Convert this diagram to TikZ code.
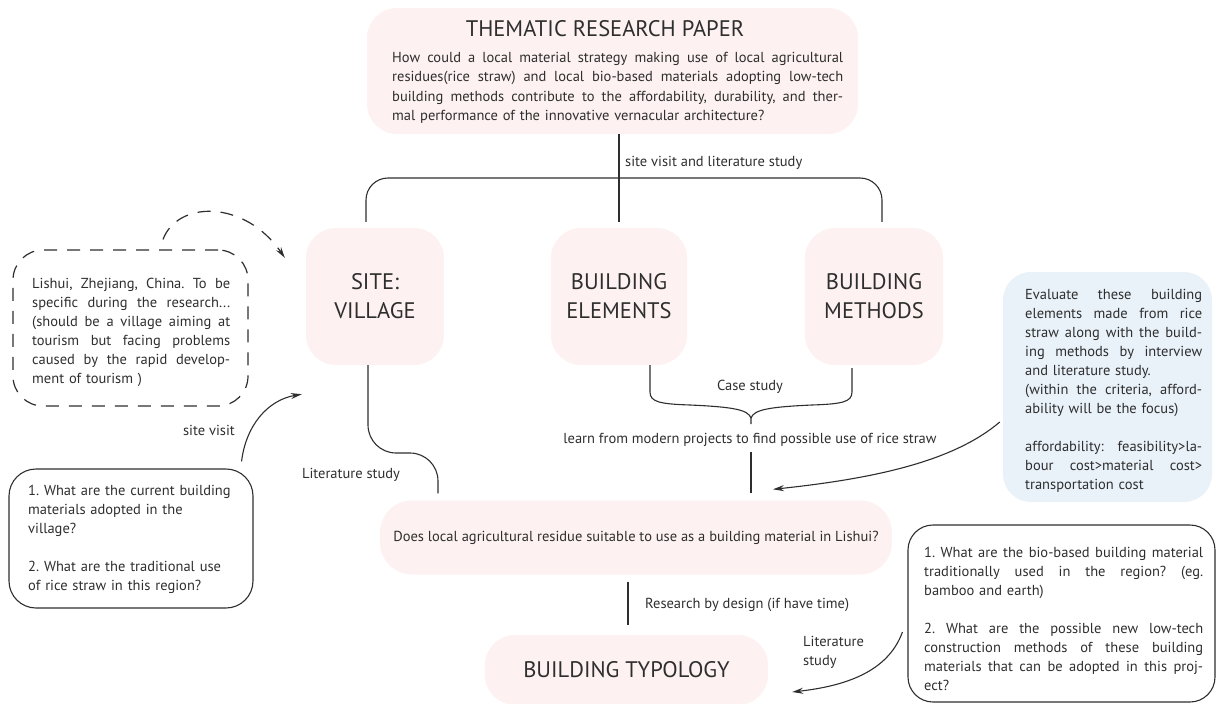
\documentclass[tikz,border=0pt]{standalone}
\usepackage{fontspec}
\setmainfont{PT Sans}
\usetikzlibrary{arrows.meta,calc}
\definecolor{pinkf}{HTML}{FDF1F1}
\definecolor{bluef}{HTML}{E9F1F9}
\definecolor{ink}{HTML}{2E2E2E}
\def\jw{100pt}
\newcommand{\jl}[1]{\leavevmode\hbox to \jw{\spaceskip=0.26em plus 1fil minus 0.05em\relax #1}}
\frenchspacing
\begin{document}
\begin{tikzpicture}[x=1pt,y=-1pt,
 every node/.style={text=ink},
 pbox/.style={fill=pinkf, rounded corners=30pt, inner sep=0pt},
 big/.style={font=\fontsize{22.5}{29}\selectfont, align=center},
 sm/.style={font=\fontsize{14.5}{19}\selectfont, inner sep=0pt},
 para/.style={sm, align=left, anchor=base west},
 conn/.style={draw=ink, line width=1.1pt},
 arr/.style={conn, -{Stealth[length=11pt,width=6pt]}},
 dsh/.style={draw=ink, line width=1.2pt, dash pattern=on 13pt off 10pt},
]
\useasboundingbox (0,0) rectangle (1216,704);

% top box
\node[pbox, minimum width=491pt, minimum height=126pt] (top) at (612.5,71) {};
\node[big, anchor=base, inner sep=0pt] (title) at (605,36) {THEMATIC RESEARCH PAPER};
\node[para, text width=451pt, font=\fontsize{14.5}{19.5}\selectfont] (topq) at (392,62) {\def\jw{451pt}%
\jl{How could a local material strategy making use of local agricultural}\\
\jl{residues(rice straw) and local bio-based materials adopting low-tech}\\
\jl{building methods contribute to the affordability, durability, and ther-}\\
mal performance of the innovative vernacular architecture?};

% three boxes
\node[pbox, big, minimum width=138pt, minimum height=137pt] (site) at (375,296.5) {SITE:\\VILLAGE};
\node[pbox, big, minimum width=136pt, minimum height=137pt] (elem) at (619,296.5) {BUILDING\\ELEMENTS};
\node[pbox, big, minimum width=138pt, minimum height=137pt] (meth) at (874,296.5) {BUILDING\\METHODS};

% question and typology
\node[pbox, rounded corners=32pt, minimum width=512pt, minimum height=74pt, font=\fontsize{14.5}{17}\selectfont] (ques) at (636,537.5) {Does local agricultural residue suitable to use as a building material in Lishui?};
\node[pbox, big, minimum width=283pt, minimum height=70pt] (typo) at (626.5,670) {BUILDING TYPOLOGY};

% dashed box
\node[dsh, rounded corners=30pt, minimum width=235pt, minimum height=156pt] (dbox) at (130.5,328) {};
\node[para, text width=198pt] (dtxt) at (32,288) {\def\jw{198pt}%
\jl{Lishui, Zhejiang, China. To be}\\
\jl{specific during the research...}\\
\jl{(should be a village aiming at}\\
\jl{tourism but facing problems}\\
\jl{caused by the rapid develop-}\\
ment of tourism )};

% left solid box
\node[draw=ink, line width=1.1pt, rounded corners=27pt, minimum width=244pt, minimum height=139pt] (lbox) at (131,538.5) {};
\node[para, text width=215pt] (ltxt) at (28,495) {1. What are the current building\\
materials adopted in the\\
village?\\[19pt]
2. What are the traditional use\\
of rice straw in this region?};

% blue box
\node[fill=bluef, rounded corners=28pt, minimum width=209pt, minimum height=230pt] (bbox) at (1107.5,387) {};
\node[para, text width=177pt] (btxt) at (1025,299) {\def\jw{177pt}%
\jl{Evaluate these building}\\
\jl{elements made from rice}\\
\jl{straw along with the build-}\\
\jl{ing methods by interview}\\
and literature study.\\
\jl{(within the criteria, afford-}\\
ability will be the focus)\\[19pt]
\jl{affordability: feasibility>la-}\\
\jl{bour cost>material cost>}\\
transportation cost};

% right solid box
\node[draw=ink, line width=1.1pt, rounded corners=25pt, minimum width=307pt, minimum height=177pt] (rbox) at (1061.5,613.5) {};
\node[para, text width=279pt] (rtxt) at (924,557) {\def\jw{279pt}%
\jl{1. What are the bio-based building material}\\
\jl{traditionally used in the region? (eg.}\\
bamboo and earth)\\[19pt]
\jl{2. What are the possible new low-tech}\\
\jl{construction methods of these building}\\
\jl{materials that can be adopted in this proj-}\\
ect?};

% labels
\node[sm, anchor=west] (lsv) at (625,163) {site visit and literature study};
\node[sm] (lcase) at (750,387) {Case study};
\node[sm] (llearn) at (750,440) {learn from modern projects to find possible use of rice straw};
\node[sm, anchor=west] (lrbd) at (645,605) {Research by design (if have time)};
\node[sm, anchor=east] (lsite) at (235,430) {site visit};
\node[sm] (llit1) at (351,475) {Literature study};
\node[sm, align=left, anchor=north west] (llit2) at (803,636) {Literature\\study};

% connectors
\draw[conn] (top.south -| elem.north) -- ([yshift=6pt]elem.north);
\coordinate (brL) at ([xshift=-9pt,yshift=6pt]site.north);
\coordinate (brR) at ([xshift=8pt,yshift=6pt]meth.north);
\coordinate (brY) at (0,178);
\draw[conn, rounded corners=22pt] (brL) -- (brL |- brY) -- (brR |- brY) -- (brR);

\draw[conn, rounded corners=28pt] ([xshift=-7pt]site.south) -- (368,453) -- (438,453) -- ([xshift=-198pt,yshift=7pt]ques.north);

\coordinate (bt) at (751,418);
\draw[conn] ([xshift=31pt]elem.south) -- (650,392) .. controls (650,402) and (660,404) .. (690,405) .. controls (735,407) and (748,410) .. (bt) -- (751,424);
\draw[conn] (bt) .. controls (754,410) and (767,407) .. (812,405) .. controls (842,404) and (852,402) .. (852,392) -- ([xshift=-22pt,yshift=-3pt]meth.south);

\draw[conn] ([xshift=1pt,yshift=-5pt]llearn.south) -- ([xshift=115pt,yshift=7pt]ques.north);
\draw[conn] ([xshift=-8pt,yshift=-7pt]ques.south) -- ([xshift=1.5pt,yshift=10pt]typo.north);

% arrows
\draw[dsh, -{Stealth[length=11pt,width=6pt]}] ([xshift=32.5pt,yshift=10pt]dbox.north) .. controls (178,200) and (245,200) .. ([xshift=-21pt,yshift=-30pt]site.north west);
\draw[arr] ([xshift=-12pt,yshift=7pt]lbox.north east) .. controls (246,425) and (268,400) .. ([xshift=-4pt,yshift=-29pt]site.south west);
\draw[arr] ([xshift=-3pt,yshift=-35pt]bbox.west) .. controls (955,460) and (880,478) .. ([xshift=137pt,yshift=11pt]ques.north);
\draw[arr] ([xshift=-5pt,yshift=-18.5pt]rbox.west) .. controls (888,672) and (845,686) .. ([xshift=24pt,yshift=-22pt]typo.east);
\end{tikzpicture}
\end{document}
